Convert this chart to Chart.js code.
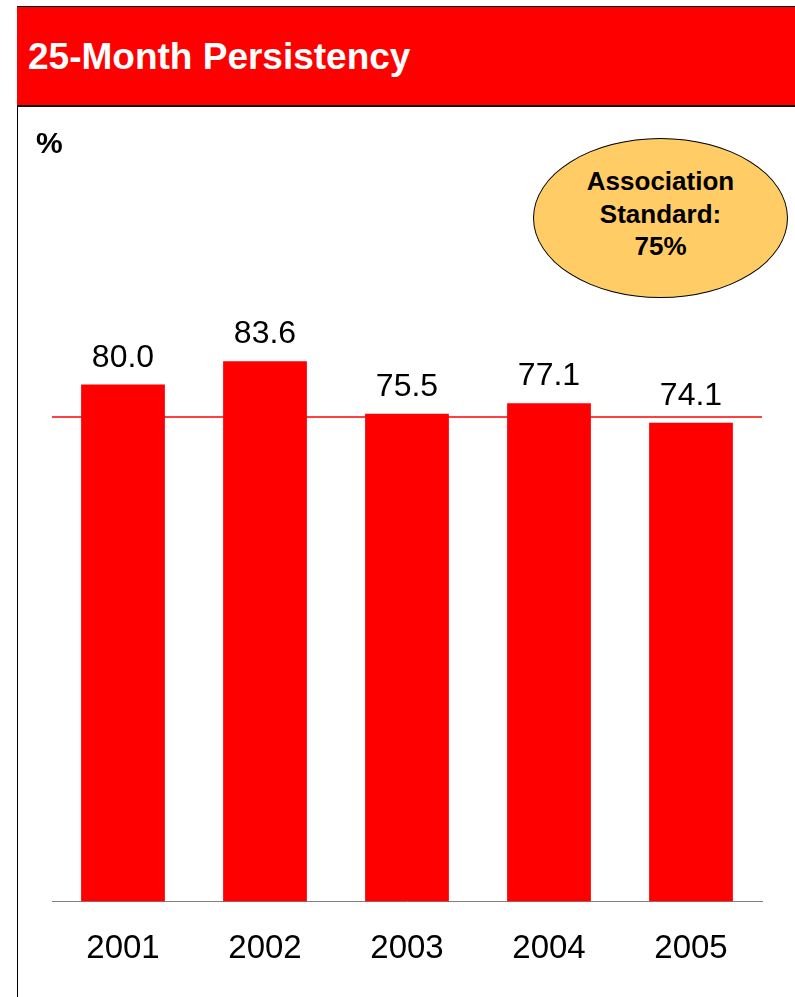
<!DOCTYPE html>
<html>
<head>
<meta charset="utf-8">
<title>25-Month Persistency</title>
<script src="https://cdn.jsdelivr.net/npm/chart.js@4/dist/chart.umd.min.js"></script>
<style>
  html, body { margin: 0; padding: 0; background: #fff; }
  body { width: 795px; height: 997px; position: relative; overflow: hidden; font-family: 'Liberation Sans', Arial, sans-serif; }
  #frame { position: absolute; left: 17px; top: 6px; width: 778px; height: 991px; border-left: 1px solid #000; box-sizing: border-box; }
  #header {
    position: absolute; left: 17px; top: 6px; width: 778px; height: 101px;
    background: #ff0000; border-top: 1px solid #000; border-bottom: 2px solid #111;
    box-sizing: border-box;
  }
  #header h1 {
    margin: 0; position: absolute; left: 11px; top: 29px;
    color: #fff; font-size: 37px; font-weight: bold; line-height: 42px;
  }
  #unit { position: absolute; left: 36px; top: 125px; font-size: 30px; font-weight: bold; line-height: 36px; }
  #badge {
    position: absolute; left: 533px; top: 138px; width: 255px; height: 160px;
    border: 1px solid #000; border-radius: 50%; background: #ffcc66; box-sizing: border-box;
    display: flex; align-items: center; justify-content: center; text-align: center;
    font-size: 26px; font-weight: bold; line-height: 32.5px; padding-bottom: 8px;
  }
  #chart { position: absolute; left: 0; top: 0; }
</style>
</head>
<body>
<canvas id="chart" width="795" height="997"></canvas>
<div id="frame"></div>
<div id="header"><h1>25-Month Persistency</h1></div>
<div id="unit">%</div>
<div id="badge"><div>Association<br>Standard:<br>75%</div></div>

<script>
/* ── Data ── */
const YEARS = ['2001', '2002', '2003', '2004', '2005'];
const PERSISTENCY = [80.0, 83.6, 75.5, 77.1, 74.1];
const STANDARD = 75;

const FONT = "'Liberation Sans', Arial, sans-serif";

/* ── Association standard line, drawn behind the bars ── */
const standardLine = {
  id: 'standardLine',
  beforeDatasetsDraw(chart) {
    const { ctx, chartArea, scales } = chart;
    const y = scales.y.getPixelForValue(STANDARD);
    ctx.save();
    ctx.strokeStyle = '#ff0000';
    ctx.lineWidth = 1.5;
    ctx.beginPath();
    ctx.moveTo(chartArea.left, y);
    ctx.lineTo(chartArea.right, y);
    ctx.stroke();
    ctx.restore();
  }
};

/* ── Value labels above each bar ── */
const valueLabels = {
  id: 'valueLabels',
  afterDatasetsDraw(chart) {
    const { ctx } = chart;
    const meta = chart.getDatasetMeta(0);
    ctx.save();
    ctx.fillStyle = '#000';
    ctx.font = `32px ${FONT}`;
    ctx.textAlign = 'center';
    ctx.textBaseline = 'alphabetic';
    meta.data.forEach((bar, i) => {
      ctx.fillText(PERSISTENCY[i].toFixed(1), bar.x, bar.y - 18);
    });
    ctx.restore();
  }
};

new Chart(document.getElementById('chart'), {
  type: 'bar',
  data: {
    labels: YEARS,
    datasets: [{
      data: PERSISTENCY,
      backgroundColor: '#ff0000',
      borderWidth: 0,
      barPercentage: 0.59,
      categoryPercentage: 1
    }]
  },
  options: {
    responsive: false,
    animation: false,
    layout: { padding: { top: 320, left: 52, right: 33, bottom: 8 } },
    scales: {
      x: {
        grid: { display: false },
        border: { display: true, color: '#808080', width: 1 },
        ticks: { color: '#000', padding: 20, font: { family: FONT, size: 33 } }
      },
      y: { display: false, min: 0, max: 90 }
    },
    plugins: {
      legend: { display: false },
      tooltip: { enabled: false }
    }
  },
  plugins: [standardLine, valueLabels]
});
</script>
</body>
</html>
